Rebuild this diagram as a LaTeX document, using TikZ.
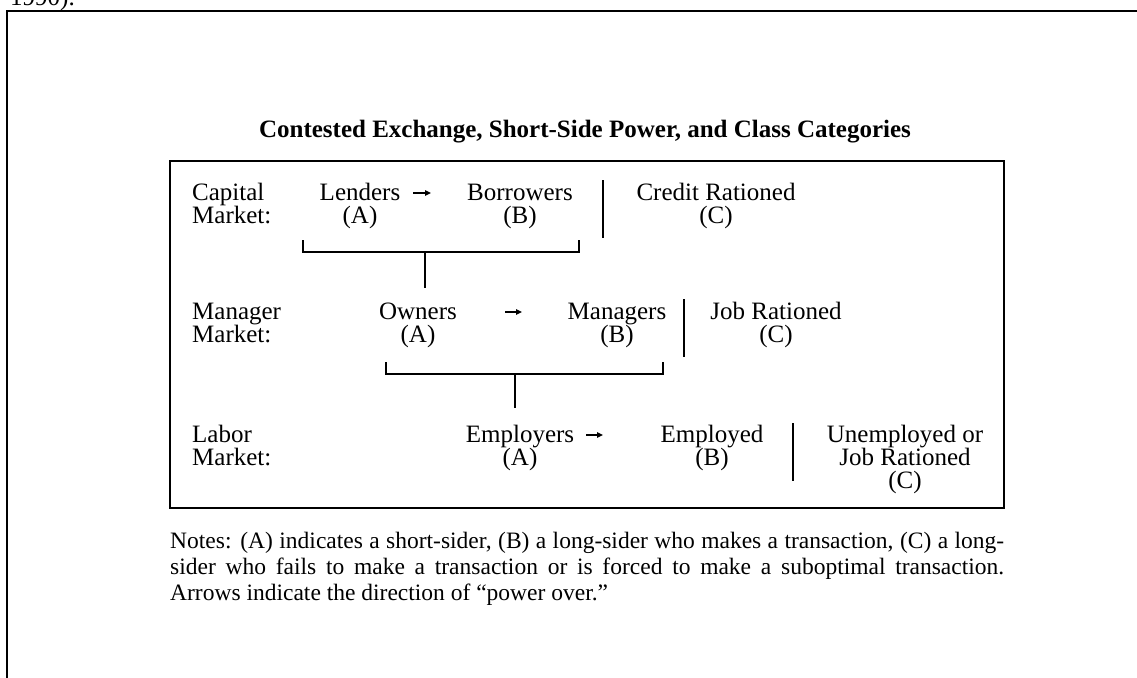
\documentclass[tikz,border=0pt]{standalone}
\usepackage{fontspec}
\setmainfont{Liberation Serif}
\usetikzlibrary{arrows.meta}
\begin{document}
\begin{tikzpicture}[x=1pt,y=-1pt,
  lbl/.style={anchor=base, align=center, inner sep=0pt, font=\fontsize{25}{23}\selectfont},
  lblw/.style={lbl, anchor=base west, align=left},
  ttl/.style={anchor=base, inner sep=0pt, font=\fontsize{25}{28}\selectfont\bfseries},
  notetxt/.style={anchor=base west, inner sep=0pt, font=\fontsize{23.5}{26}\selectfont},
  outerframe/.style={line width=2.2pt},
  innerbox/.style={line width=1.4pt},
  sepline/.style={line width=1.4pt},
  brk/.style={line width=1.4pt},
  pow/.style={line width=1.3pt, -{Triangle[length=6pt,width=5.5pt]}},
]
\useasboundingbox (0,0) rectangle (1137,677);
% outer page frame (continues beyond the picture)
\draw[outerframe] (7,11) rectangle (1160,700);
\node[anchor=base west, inner sep=0pt, font=\fontsize{25}{28}\selectfont] (cite) at (10,6) {1990).};

% title and box
\node[ttl] (title) at (585,137) {Contested Exchange, Short-Side Power, and Class Categories};
\draw[innerbox] (170,161) rectangle (1004,508);

% row 1: capital market (anchor = baseline of the last line)
\node[lblw] (cap) at (192,223) {Capital\\Market:};
\node[lbl] (lend) at (360,223) {Lenders\\(A)};
\node[lbl] (borr) at (520,223) {Borrowers\\(B)};
\node[lbl] (cred) at (716,223) {Credit Rationed\\(C)};
\coordinate (p1s) at (413,193);
\coordinate (p1e) at (431,193);
\draw[pow] (p1s) -- (p1e);
\coordinate (s1t) at (603,180);
\coordinate (s1b) at (603,238);
\draw[sepline] (s1t) -- (s1b);
\coordinate (b1l) at (303,240);
\coordinate (b1r) at (579,240);
\coordinate (b1m) at (425,252);
\coordinate (b1s) at (425,288);
\draw[brk] (b1l) |- (b1m) -| (b1r);
\draw[brk] (b1m) -- (b1s);

% row 2: manager market
\node[lblw] (man) at (192,342) {Manager\\Market:};
\node[lbl] (own) at (418,342) {Owners\\(A)};
\node[lbl] (mgr) at (617,342) {Managers\\(B)};
\node[lbl] (job) at (776,342) {Job Rationed\\(C)};
\coordinate (p2s) at (505,312);
\coordinate (p2e) at (522,312);
\draw[pow] (p2s) -- (p2e);
\coordinate (s2t) at (684,299);
\coordinate (s2b) at (684,357);
\draw[sepline] (s2t) -- (s2b);
\coordinate (b2l) at (386,362);
\coordinate (b2r) at (663,362);
\coordinate (b2m) at (515,374);
\coordinate (b2s) at (515,408);
\draw[brk] (b2l) |- (b2m) -| (b2r);
\draw[brk] (b2m) -- (b2s);

% row 3: labor market
\node[lblw] (lab) at (192,465) {Labor\\Market:};
\node[lbl] (emp) at (520,465) {Employers\\(A)};
\node[lbl] (empd) at (712,465) {Employed\\(B)};
\node[lbl] (unem) at (905,488) {Unemployed or\\Job Rationed\\(C)};
\coordinate (p3s) at (586,435);
\coordinate (p3e) at (603,435);
\draw[pow] (p3s) -- (p3e);
\coordinate (s3t) at (793,423);
\coordinate (s3b) at (793,481);
\draw[sepline] (s3t) -- (s3b);

% notes
\node[notetxt] (n1) at (170,548) {\hbox to 834pt{Notes: (A) indicates a short-sider, (B) a long-sider who makes a transaction, (C) a long-}};
\node[notetxt] (n2) at (170,574) {\hbox to 834pt{sider who fails to make a transaction or is forced to make a suboptimal transaction.}};
\node[notetxt] (n3) at (170,600) {Arrows indicate the direction of “power over.”};
\end{tikzpicture}
\end{document}
